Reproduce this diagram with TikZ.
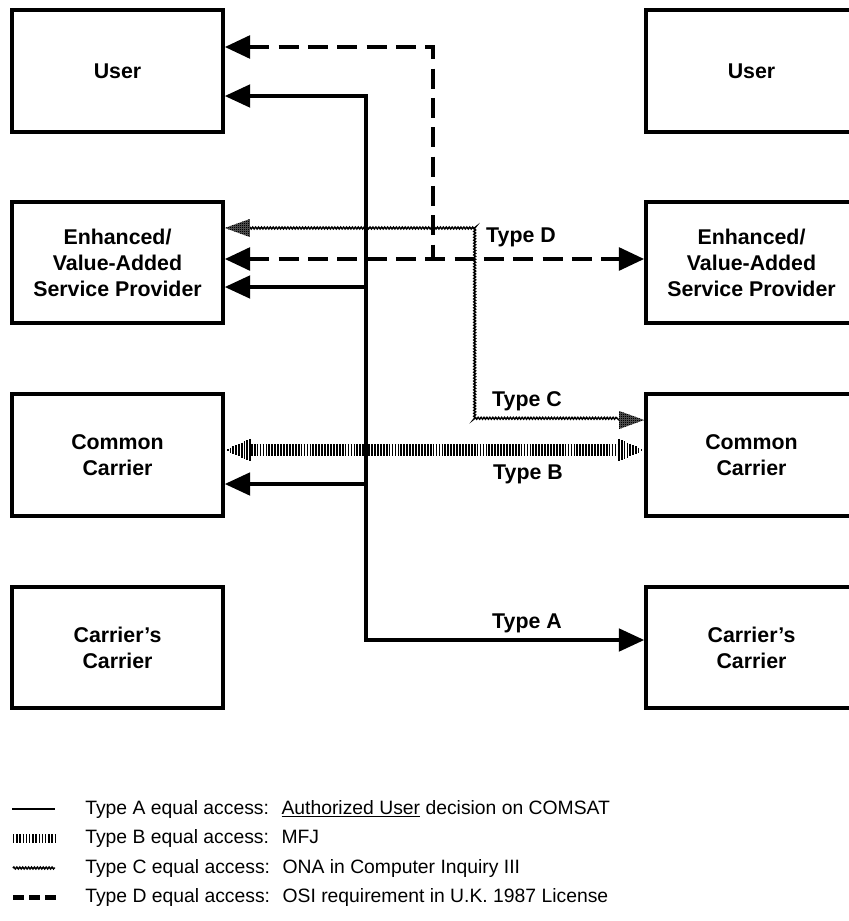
\documentclass[tikz,border=0pt]{standalone}
\usepackage{fontspec}
\setmainfont{Liberation Sans}
\usetikzlibrary{arrows.meta,calc,decorations.pathmorphing,patterns}

% dense stipple used for the Type C arrow heads
\pgfdeclarepatternformonly{finedots}{\pgfqpoint{0pt}{0pt}}{\pgfqpoint{1.4pt}{1.4pt}}{\pgfqpoint{1.4pt}{1.4pt}}{%
  \pgfpathrectangle{\pgfqpoint{0pt}{0pt}}{\pgfqpoint{0.7pt}{0.7pt}}\pgfusepath{fill}}

\tikzset{
  Head/.tip={Triangle[length=19pt,width=17pt]},
  box/.style={draw, line width=3pt, minimum width=158pt, minimum height=91pt,
    align=center, inner sep=0pt, font=\fontsize{16}{19.5}\selectfont\bfseries},
  linkA/.style={line width=2.3pt},
  linkB/.style={line width=9pt, dash pattern=on 1.3pt off 0.9pt},
  linkC/.style={line width=1.1pt, decorate,
    decoration={snake, amplitude=0.7pt, segment length=2.2pt}},
  linkD/.style={line width=3pt, dash pattern=on 15pt off 7pt},
  stipplehead/.style={fill=black!70, postaction={pattern=finedots}},
  typelabel/.style={inner sep=0pt, font=\fontsize{16}{19}\selectfont\bfseries},
  legendtext/.style={anchor=west, inner sep=0pt, font=\fontsize{14.5}{17}\selectfont}
}

\begin{document}
\begin{tikzpicture}[x=0.75pt,y=-0.75pt]
\fill[white] (0,0) rectangle (849,921);
\useasboundingbox (0,0) rectangle (849,921);
\clip (0,0) rectangle (849,921);

% left column
\node[box] (lu) at (117.5,71)    {User};
\node[box] (le) at (117.5,262.5) {Enhanced/\\Value-Added\\Service Provider};
\node[box] (lc) at (117.5,455)   {Common\\Carrier};
\node[box] (lk) at (117.5,647.5) {Carrier's\\Carrier};

% right column (runs past the right margin)
\node[box] (ru) at (751.5,71)    {User};
\node[box] (re) at (751.5,262.5) {Enhanced/\\Value-Added\\Service Provider};
\node[box] (rc) at (751.5,455)   {Common\\Carrier};
\node[box] (rk) at (751.5,647.5) {Carrier's\\Carrier};

% Type A: solid trunk with branches
\coordinate (aTop) at (366,96);
\coordinate (aE)   at (366,287);
\coordinate (aC)   at (366,484);
\coordinate (aBot) at (366,640);
\draw[linkA,Head-Head] (aTop -| lu.east) -- (aTop) -- (aBot) -- (aBot -| rk.west);
\draw[linkA,-Head] (aE) -- (aE -| le.east);
\draw[linkA,-Head] (aC) -- (aC -| lc.east);

% Type D: dashed
\coordinate (dTop)  at (433,47);
\coordinate (dJoin) at (433,259);
\draw[linkD,Head-] (dTop -| lu.east) -- (dTop) -- (dJoin);
\draw[linkD,Head-Head] (dJoin -| le.east) -- (dJoin -| re.west);

% Type C: stippled wavy line
\coordinate (cL) at (le.east |- 0,228);
\coordinate (c1) at (475,228);
\coordinate (c2) at (475,420);
\coordinate (cR) at (rc.west |- 0,420);
\draw[linkC] ($(cL)+(24,0)$) -- (c1) -- (c2) -- ($(cR)+(-24,0)$);
\fill[stipplehead] (cL) -- ++(25,-9) -- ++(0,18) -- cycle;
\fill[stipplehead] (cR) -- ++(-25,-9) -- ++(0,18) -- cycle;

% Type B: hatched band with hatched heads
\coordinate (bL) at (lc.east |- 0,450);
\coordinate (bR) at (rc.west |- 0,450);
\draw[linkB] ($(bL)+(26,0)$) -- ($(bR)+(-26,0)$);
\foreach \i in {1,...,9} {
  \draw[line width=1.3pt] ($(bL)+(\i*2.8,-\i*1.25)$) -- ($(bL)+(\i*2.8,\i*1.25)$);
  \draw[line width=1.3pt] ($(bR)+(-\i*2.8,-\i*1.25)$) -- ($(bR)+(-\i*2.8,\i*1.25)$);
}

% connector labels
\node[typelabel] (tD) at (521,237) {Type D};
\node[typelabel] (tC) at (527,401) {Type C};
\node[typelabel] (tB) at (528,474) {Type B};
\node[typelabel] (tA) at (527,623) {Type A};

% legend
\node[legendtext] (gA) at (85,809)   {Type A equal access:~ \underline{Authorized User} decision on COMSAT};
\node[legendtext] (gB) at (85,838.5) {Type B equal access:~ MFJ};
\node[legendtext] (gC) at (85,868)   {Type C equal access:~ ONA in Computer Inquiry III};
\node[legendtext] (gD) at (85,897.5) {Type D equal access:~ OSI requirement in U.K. 1987 License};

\draw[line width=1.5pt] ($(gA.west)+(-73,0)$) -- ($(gA.west)+(-30,0)$);
\draw[line width=7pt, dash pattern=on 1pt off 1.4pt] ($(gB.west)+(-72,0)$) -- ($(gB.west)+(-30,0)$);
\draw[linkC] ($(gC.west)+(-72,0)$) -- ($(gC.west)+(-30,0)$);
\draw[line width=3.5pt, dash pattern=on 8.5pt off 3.5pt] ($(gD.west)+(-72,0)$) -- ($(gD.west)+(-29,0)$);
\end{tikzpicture}
\end{document}
